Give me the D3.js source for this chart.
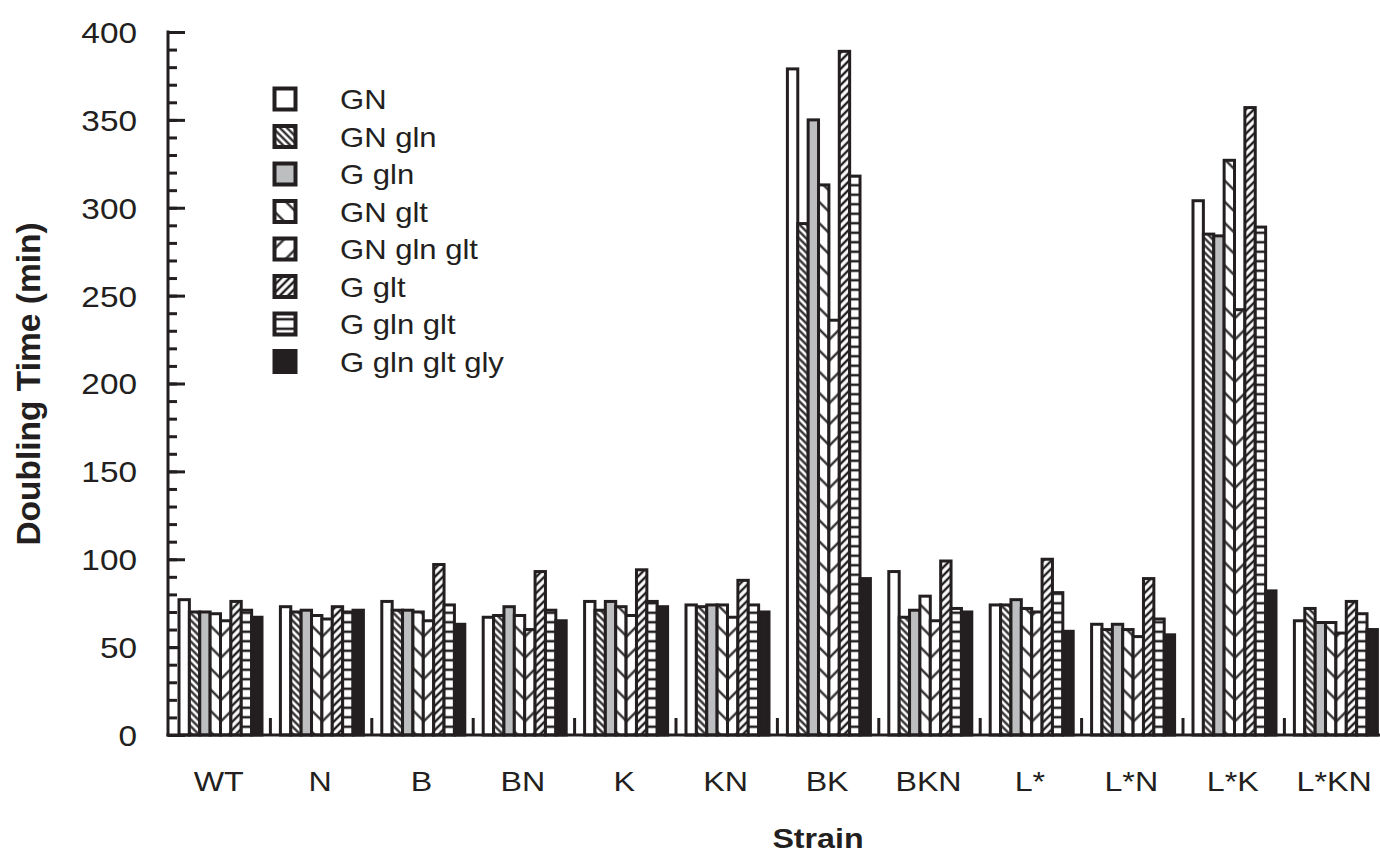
<!DOCTYPE html>
<html>
<head>
<meta charset="utf-8">
<script src="https://cdn.jsdelivr.net/npm/d3@7"></script>
<style>
  body { margin: 0; background: #fff; }
  svg { display: block; }
  text { font-family: "Liberation Sans", Arial, sans-serif; fill: #231f20; }
</style>
</head>
<body>
<script>
const strains = ['WT', 'N', 'B', 'BN', 'K', 'KN', 'BK', 'BKN', 'L*', 'L*N', 'L*K', 'L*KN'];
const conditions = ['GN', 'GN gln', 'G gln', 'GN glt', 'GN gln glt', 'G glt', 'G gln glt', 'G gln glt gly'];

// doubling time (min), one value per strain
const gn         = [77, 73, 76, 67, 76, 74, 379, 93, 74, 63, 304, 65];
const gnGln      = [70, 70, 71, 68, 71, 73, 291, 67, 74, 60, 285, 72];
const gGln       = [70, 71, 71, 73, 76, 74, 350, 71, 77, 63, 284, 64];
const gnGlt      = [69, 68, 70, 68, 73, 74, 313, 79, 72, 60, 327, 64];
const gnGlnGlt   = [65, 66, 65, 60, 68, 67, 236, 65, 70, 56, 242, 58];
const gGlt       = [76, 73, 97, 93, 94, 88, 389, 99, 100, 89, 357, 76];
const gGlnGlt    = [71, 70, 74, 71, 76, 74, 318, 72, 81, 66, 289, 69];
const gGlnGltGly = [67, 71, 63, 65, 73, 70, 89, 70, 59, 57, 82, 60];

const yTicks = [0, 50, 100, 150, 200, 250, 300, 350, 400];
const yMinor = d3.range(0, 401, 10);

const series = [gn, gnGln, gGln, gnGlt, gnGlnGlt, gGlt, gGlnGlt, gGlnGltGly];
const ink = '#231f20';
const fills = ['#fff', 'url(#hDense)', '#bcbec0', 'url(#bSparse)', 'url(#fSparse)', 'url(#fDense)', 'url(#horiz)', ink];
const sx = 1.15; // glyphs in the original are stretched sideways

const width = 1380, height = 853;
const svg = d3.select('body').append('svg')
	.attr('width', width)
	.attr('height', height);

const defs = svg.append('defs');

// diagonal hatch: vertical lines rotated (45 -> "/", -45 -> "\")
const hatch = (id, s, angle, w) => {
	const p = defs.append('pattern')
		.attr('id', id)
		.attr('patternUnits', 'userSpaceOnUse')
		.attr('width', s).attr('height', s)
		.attr('patternTransform', `rotate(${angle})`);
	p.append('rect').attr('width', s).attr('height', s).attr('fill', '#fff');
	p.append('line')
		.attr('x1', s / 2).attr('x2', s / 2)
		.attr('y1', 0).attr('y2', s)
		.attr('stroke', ink).attr('stroke-width', w);
};
hatch('hDense', 5, -45, 2.2);
hatch('bSparse', 15, -45, 2.2);
hatch('fSparse', 15, 45, 2.2);
hatch('fDense', 5.7, 45, 2.4);

const hp = defs.append('pattern')
	.attr('id', 'horiz')
	.attr('patternUnits', 'userSpaceOnUse')
	.attr('width', 10).attr('height', 9.5);
hp.append('rect').attr('width', 10).attr('height', 9.5).attr('fill', '#fff');
hp.append('line')
	.attr('x1', 0).attr('x2', 10)
	.attr('y1', 4.75).attr('y2', 4.75)
	.attr('stroke', ink).attr('stroke-width', 2.5);

const x0 = 168, y0 = 735;
const y = d3.scaleLinear().domain([0, 400]).range([y0, 32]);
const x = d3.scaleBand().domain(strains).range([x0, x0 + 12 * 101.4]);
const xi = d3.scaleBand().domain(conditions).range([11, 94]);

// y axis: minor ticks, then major ticks with labels
svg.append('g')
	.attr('transform', `translate(${x0},0)`)
	.call(d3.axisLeft(y).tickValues(yMinor).tickSize(-9).tickSizeOuter(0).tickFormat(''))
	.call(g => g.select('.domain').remove())
	.call(g => g.selectAll('line').attr('stroke', ink).attr('stroke-width', 3));

const yAxis = svg.append('g')
	.attr('transform', `translate(${x0},0)`)
	.call(d3.axisLeft(y).tickValues(yTicks).tickSize(-17).tickSizeOuter(0).tickPadding(31))
	.call(g => g.select('.domain').remove())
	.call(g => g.selectAll('line').attr('stroke', ink).attr('stroke-width', 3));
yAxis.selectAll('text')
	.attr('x', 0).attr('dy', '0.36em')
	.attr('transform', `translate(-31,0) scale(${sx},1)`)
	.style('font-size', '29px')
	.attr('fill', ink);

svg.append('line')
	.attr('x1', x0).attr('x2', x0)
	.attr('y1', y(400) - 1.5).attr('y2', y0 + 1.5)
	.attr('stroke', ink).attr('stroke-width', 3);

// bars
const group = svg.selectAll('g.strain')
	.data(strains)
	.join('g')
	.attr('class', 'strain')
	.attr('transform', d => `translate(${x(d)},0)`);

group.selectAll('rect')
	.data((s, i) => conditions.map((c, k) => ({ c, k, v: series[k][i] })))
	.join('rect')
	.attr('x', d => xi(d.c))
	.attr('width', xi.bandwidth())
	.attr('y', d => y(d.v))
	.attr('height', d => y0 - y(d.v))
	.attr('fill', d => fills[d.k])
	.attr('stroke', ink)
	.attr('stroke-width', 3);

// short separators between strain groups
svg.selectAll('line.sep')
	.data(strains.slice(1))
	.join('line')
	.attr('class', 'sep')
	.attr('x1', d => x(d) + 1).attr('x2', d => x(d) + 1)
	.attr('y1', y0).attr('y2', y0 - 17)
	.attr('stroke', ink).attr('stroke-width', 3);

// x axis line
svg.append('line')
	.attr('x1', x0 - 1.5).attr('x2', width)
	.attr('y1', y0).attr('y2', y0)
	.attr('stroke', ink).attr('stroke-width', 3);

// strain labels
svg.selectAll('g.xlab')
	.data(strains)
	.join('g')
	.attr('class', 'xlab')
	.attr('transform', d => `translate(${x(d) + x.bandwidth() / 2},791) scale(${sx},1)`)
	.append('text')
	.attr('text-anchor', 'middle')
	.style('font-size', '28px')
	.text(d => d);

// axis titles
svg.append('g')
	.attr('transform', `translate(818,848) scale(${sx},1)`)
	.append('text')
	.attr('text-anchor', 'middle')
	.style('font-size', '28px')
	.style('font-weight', 'bold')
	.text('Strain');

svg.append('g')
	.attr('transform', 'translate(40,384) rotate(-90)')
	.append('text')
	.attr('text-anchor', 'middle')
	.style('font-size', '33.5px')
	.style('font-weight', 'bold')
	.text('Doubling Time (min)');

// legend
const legend = svg.append('g')
	.attr('transform', 'translate(285,99)');

const item = legend.selectAll('g')
	.data(conditions)
	.join('g')
	.attr('transform', (d, i) => `translate(0,${i * 37.5})`);

item.append('rect')
	.attr('x', -10.5).attr('y', -10.5)
	.attr('width', 21).attr('height', 21)
	.attr('fill', (d, i) => fills[i])
	.attr('stroke', ink)
	.attr('stroke-width', 4);

item.append('g')
	.attr('transform', `translate(55,10) scale(${sx},1)`)
	.append('text')
	.style('font-size', '27px')
	.text(d => d);
</script>
</body>
</html>
